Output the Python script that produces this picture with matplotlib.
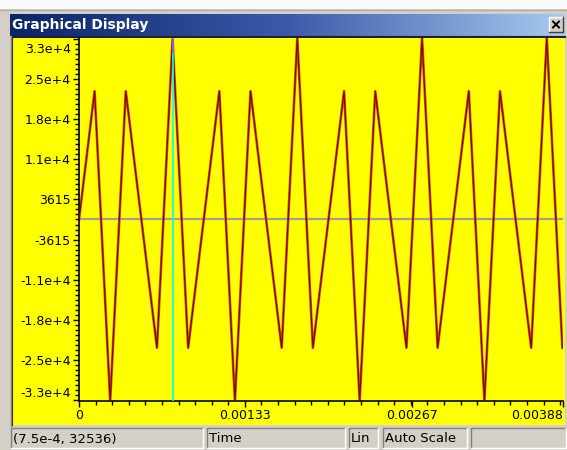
import matplotlib
matplotlib.use("Agg")
import matplotlib.pyplot as plt
import matplotlib.transforms as mtransforms
import numpy as np
from matplotlib.colors import LinearSegmentedColormap
from matplotlib.patches import Rectangle
from matplotlib.ticker import MultipleLocator

time = [0.0, 0.000125, 0.00025, 0.000375, 0.0005, 0.000625, 0.00075, 0.000875,
        0.001, 0.001125, 0.00125, 0.001375, 0.0015, 0.001625, 0.00175, 0.001875,
        0.002, 0.002125, 0.00225, 0.002375, 0.0025, 0.002625, 0.00275, 0.002875,
        0.003, 0.003125, 0.00325, 0.003375, 0.0035, 0.003625, 0.00375, 0.003875]
samples = [0, 23170, -32767, 23170, 0, -23170, 32536, -23170,
           0, 23170, -32767, 23170, 0, -23170, 32767, -23170,
           0, 23170, -32767, 23170, 0, -23170, 32767, -23170,
           0, 23170, -32767, 23170, 0, -23170, 32767, -23170]

x_tick_values = [0, 0.00133, 0.00267, 0.00388]
x_tick_labels = ["0", "0.00133", "0.00267", "0.00388"]
y_tick_values = [32535, 25305, 18075, 10845, 3615, -3615, -10845, -18075, -25305, -32535]
y_tick_labels = ["3.3e+4", "2.5e+4", "1.8e+4", "1.1e+4", "3615",
                 "-3615", "-1.1e+4", "-1.8e+4", "-2.5e+4", "-3.3e+4"]

cursor_t = 7.5e-4
cursor_val = 32536
status_texts = ["(7.5e-4, 32536)", "Time", "Lin", "Auto Scale", ""]

W, H = 567, 450
gray = "#D4D0C8"
fig = plt.figure(figsize=(W / 100, H / 100), dpi=100, facecolor=gray)

# window chrome drawn in pixel coordinates
bg = fig.add_axes([0, 0, 1, 1])
bg.set_xlim(0, W)
bg.set_ylim(H, 0)
bg.axis("off")

bg.add_patch(Rectangle((0, 0), W, 9, facecolor="#FAFAFA", edgecolor="none"))
bg.plot([0, W], [9.5, 9.5], color="#B0B0B0", lw=1)

# title bar with gradient
grad = np.linspace(0, 1, 256).reshape(1, -1)
cmap = LinearSegmentedColormap.from_list("title", ["#0A246A", "#3A5AA8", "#A6CAF0"])
bg.imshow(grad, cmap=cmap, extent=(10, 565, 36, 14), aspect="auto", zorder=1)
bg.text(12, 25.5, "Graphical Display", color="white", fontsize=10, fontweight="bold",
        va="center", ha="left", zorder=3)

# close button
bg.add_patch(Rectangle((549, 17), 14, 15, facecolor=gray, edgecolor="none", zorder=2))
bg.plot([549, 549, 563], [32, 17, 17], color="white", lw=1, zorder=3)
bg.plot([549, 563, 563], [32, 32, 17], color="#404040", lw=1, zorder=3)
bg.plot([553, 559], [21.5, 27.5], color="black", lw=1.4, zorder=4)
bg.plot([559, 553], [21.5, 27.5], color="black", lw=1.4, zorder=4)

# yellow plot panel
bg.add_patch(Rectangle((12, 37), 553, 388, facecolor="#FFFF00", edgecolor="none", zorder=1))
bg.plot([11.5, 11.5, 565], [425, 37, 37], color="#202020", lw=1.5, zorder=2)
bg.plot([10.5, 10.5], [36, 426], color="#808080", lw=1, zorder=2)

# status bar panels
panels = [(11, 203), (207, 345), (349, 378), (383, 467), (471, 566)]
for (x0, x1), txt in zip(panels, status_texts):
    bg.add_patch(Rectangle((x0, 428), x1 - x0, 20, facecolor=gray, edgecolor="none", zorder=1))
    bg.plot([x0, x0, x1], [448, 428, 428], color="#808080", lw=1, zorder=2)
    bg.plot([x0, x1, x1], [448, 448, 428], color="white", lw=1, zorder=2)
    bg.text(x0 + 2, 439, txt, fontsize=9.5, va="center", ha="left", color="black", zorder=3)

# the plot itself
ax = fig.add_axes([79 / W, 1 - 401 / H, 484 / W, 363 / H])
ax.set_facecolor("#FFFF00")
ax.axhline(0, color="#A0A098", lw=1.6, zorder=1)
ax.plot(time, samples, color="#C06400", lw=1.9, zorder=2)
ax.plot(time, samples, color="#8B0000", lw=0.9, zorder=3)

# XOR cursor: cyan over yellow, purple where it overlaps the trace
ax.axvline(cursor_t, color="#00FFFF", lw=1.2, zorder=4)
ax.vlines(cursor_t, 30000, 32767, color="#B040E0", lw=1.2, zorder=5)

ax.set_xlim(0, 0.00388)
ax.set_ylim(-32768, 32767)

ax.set_xticks(x_tick_values)
ax.set_xticklabels(x_tick_labels)
ax.set_yticks(y_tick_values)
ax.set_yticklabels(y_tick_labels)
ax.xaxis.set_minor_locator(MultipleLocator(0.000133))
ax.yaxis.set_minor_locator(MultipleLocator(903.75))

ax.tick_params(which="major", direction="out", length=4, width=1, labelsize=9, pad=2, colors="black")
ax.tick_params(which="minor", direction="out", length=3, width=1)

xl = ax.get_xticklabels()
xl[-1].set_ha("right")
yl = ax.get_yticklabels()
yl[0].set_va("top")
yl[0].set_transform(yl[0].get_transform()
                    + mtransforms.ScaledTranslation(0, -3 / 72, fig.dpi_scale_trans))
yl[-1].set_va("bottom")

for s in ["top", "right"]:
    ax.spines[s].set_visible(False)
for s in ["left", "bottom"]:
    ax.spines[s].set_color("black")
    ax.spines[s].set_linewidth(1.2)

fig.savefig("out.png", dpi=100, facecolor=gray)
